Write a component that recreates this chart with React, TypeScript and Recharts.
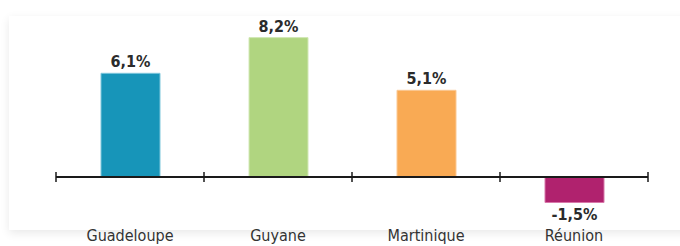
import { BarChart, Bar, XAxis, YAxis, Cell, LabelList, ReferenceLine } from "recharts";

const territories = ["Guadeloupe", "Guyane", "Martinique", "Réunion"];
const growth = [6.1, 8.2, 5.1, -1.5];
const barColors = ["#1795b9", "#b0d580", "#f9aa54", "#b0226e"];
const edgeColors = ["#7fc7dc", "#d2e8b6", "#fbc994", "#d878aa"];

const data = territories.map((name, i) => ({ name, value: growth[i] }));

const FONT = '"Liberation Sans Narrow", "DejaVu Sans Condensed", "Noto Sans", sans-serif';

const fmt = (v: number) => v.toFixed(1).replace(".", ",") + "%";

// zero line with tick marks at each band boundary
const ZeroAxis = (props: any) => {
  const { x1, x2, y1 } = props;
  const n = territories.length;
  const step = (x2 - x1) / n;
  return (
    <g>
      <line x1={x1} x2={x2} y1={y1} y2={y1} stroke="#1a1a1a" strokeWidth={2} />
      {Array.from({ length: n + 1 }, (_, i) => (
        <line key={i} x1={x1 + i * step} x2={x1 + i * step} y1={y1 - 5} y2={y1 + 5} stroke="#1a1a1a" strokeWidth={1.5} />
      ))}
    </g>
  );
};

const ValueLabel = (props: any) => {
  const { x, y, width, height, value } = props;
  const top = Math.min(y, y + height);
  const bottom = Math.max(y, y + height);
  const neg = value < 0;
  return (
    <text
      x={x + width / 2}
      y={neg ? bottom + 17 : top - 6}
      textAnchor="middle"
      fontFamily={FONT}
      fontWeight="bold"
      fontSize={16}
      fill="#2b2b2b"
    >
      {fmt(value)}
    </text>
  );
};

const CategoryTick = (props: any) => {
  const { x, y, payload } = props;
  return (
    <text x={x} y={y + 30} textAnchor="middle" fontFamily={FONT} fontSize={16} fill="#333">
      {payload.value}
    </text>
  );
};

export default function App() {
  return (
    <div style={{ position: "absolute", left: 0, top: 0, width: 680, height: 246, background: "#ffffff", overflow: "hidden" }}>
      {/* card */}
      <div style={{
        position: "absolute",
        left: 9,
        top: 16,
        width: 690,
        height: 214,
        background: "#fff",
        boxShadow: "0 3px 9px rgba(0,0,0,0.09)",
      }} />
      <div style={{ position: "absolute", left: 0, top: 0 }}>
        <BarChart width={680} height={246} data={data} margin={{ top: 24, right: 32, left: 56, bottom: 0 }}>
          <XAxis
            dataKey="name"
            axisLine={false}
            tickLine={false}
            tickSize={0}
            tickMargin={0}
            height={35}
            interval={0}
            tick={<CategoryTick />}
          />
          <YAxis hide domain={[-2, 9]} />
          <Bar dataKey="value" barSize={59} isAnimationActive={false} strokeWidth={1}>
            {data.map((d, i) => (
              <Cell key={d.name} fill={barColors[i]} stroke={edgeColors[i]} />
            ))}
            <LabelList dataKey="value" content={<ValueLabel />} />
          </Bar>
          <ReferenceLine y={0} shape={<ZeroAxis />} />
        </BarChart>
      </div>
    </div>
  );
}
